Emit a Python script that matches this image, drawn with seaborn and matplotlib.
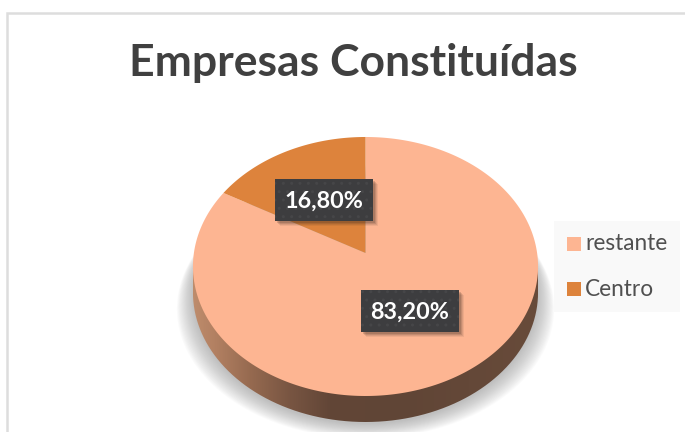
import numpy as np
import matplotlib
matplotlib.use('Agg')
import matplotlib.pyplot as plt
import seaborn as sns
from matplotlib.patches import PathPatch, Rectangle
from matplotlib.path import Path

TITULO = 'Empresas Constituídas'
categorias = ['restante', 'Centro']
valores = [83.2, 16.8]
cores = ['#FDB592', '#DD833C']

CX, CY = 365.5, 253.0   # apex of the pie on the canvas
ESCALA_X, ESCALA_Y, PERSP = 171.6, 128.1, 0.1042
ALTURA = 26


def projeta(xy):
    # tilted disc: unit circle to canvas pixels
    d = 1 + PERSP * xy[:, 1]
    return np.column_stack([CX + ESCALA_X * xy[:, 0] / d, CY - ESCALA_Y * xy[:, 1] / d])


def rotulo(v):
    return f'{v:.2f}%'.replace('.', ',')


sns.set_theme(style='white')
plt.rcParams['font.family'] = ['Lato', 'DejaVu Sans']

fig = plt.figure(figsize=(6.85, 4.32), dpi=100)
ax = fig.add_axes([0, 0, 1, 1])
wedges, _ = ax.pie(valores, colors=sns.color_palette(cores), startangle=90, counterclock=False, radius=1)
ax.set_aspect('auto')
ax.set_xlim(0, 685)
ax.set_ylim(432, 0)
ax.axis('off')

# chart border
ax.add_patch(Rectangle((7.5, 12.5), 700, 440, fc='white', ec='#DDDDDD', lw=1.8, zorder=0))

t = np.linspace(0, 2 * np.pi, 361)
borda = projeta(np.column_stack([np.cos(t), np.sin(t)]))

# soft shadow under the disc
for k in np.linspace(16, 0, 17):
    sombra = borda.copy()
    sombra[:, 0] = CX + (borda[:, 0] - CX) * (1 + k / 172)
    sombra[:, 1] = borda[:, 1] + 28 + k * 0.9
    ax.fill(sombra[:, 0], sombra[:, 1], color='#808080', alpha=0.036, lw=0, zorder=1)

# side wall with a left to right gradient
esq, dir_ = np.argmin(borda[:, 0]), np.argmax(borda[:, 0])
baixo = borda[np.arange(esq, 361 if esq > dir_ else dir_ + 1)]
baixo = baixo[np.argsort(baixo[:, 0])] + [0, ALTURA]
cima = baixo[::-1] - [0, ALTURA + 5]
parede = Path(np.vstack([baixo, cima, baixo[:1]]))
gx = np.array([193, 215, 250, 290, 330, 400, 538])
gc = np.array([[190, 140, 108], [178, 128, 98], [150, 106, 80], [120, 85, 66], [98, 70, 55], [96, 69, 54], [104, 75, 58]])
xs = np.arange(193, 539)
grad = np.stack([np.interp(xs, gx, gc[:, i]) for i in range(3)], axis=-1)[None, :, :] / 255
im = ax.imshow(grad, extent=(193, 538, 425, 260), aspect='auto', zorder=2)
ax.set_xlim(0, 685)
ax.set_ylim(432, 0)
im.set_clip_path(PathPatch(parede, transform=ax.transData))

# pie wedges bent onto the tilted disc
for w in wedges:
    a = np.radians(np.linspace(w.theta1, w.theta2, 300))
    uv = np.vstack([[0, 0], np.column_stack([np.cos(a), np.sin(a)])])
    ax.fill(*projeta(uv).T, color=w.get_facecolor(), lw=0, zorder=3)
    w.set_visible(False)

# data labels
caixas = [(361, 290), (275, 179)]
for v, (x0, y0) in zip(valores, caixas):
    for d, al in [(5, 0.08), (4, 0.1), (3, 0.14), (2, 0.18)]:
        ax.add_patch(Rectangle((x0 + d, y0 + d), 98, 42, fc='#3A2A20', alpha=al, lw=0, zorder=4))
    ax.add_patch(Rectangle((x0, y0), 98, 42, fc='#3D3D3F', ec='#464648', hatch='..', lw=0, zorder=5))
    ax.text(x0 + 49, y0 + 22, rotulo(v), color='white', fontsize=16.8, fontweight='bold',
            ha='center', va='center', zorder=6)

ax.text(353, 63, TITULO, color='#404040', fontsize=32, fontweight='bold', ha='center', va='center', zorder=6)

# legend
ax.add_patch(Rectangle((554, 221), 126, 91, fc='#F9F9F9', lw=0, zorder=6))
for nome, cor, y in zip(categorias, cores, [244, 289]):
    ax.add_patch(Rectangle((567, y - 7), 14, 14, fc=cor, lw=0, zorder=7))
    ax.text(585, y, nome, color='#505050', fontsize=16.3, ha='left', va='center', zorder=7)

fig.savefig('out.png', dpi=100)
